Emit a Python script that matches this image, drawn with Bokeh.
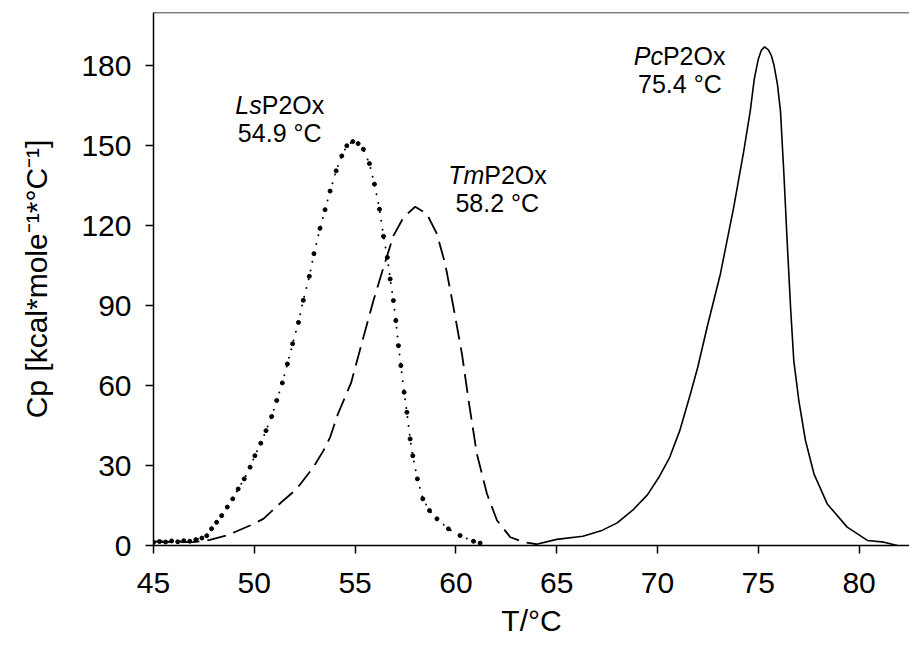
from bokeh.plotting import figure
from bokeh.models import Range1d, FixedTicker, Span, ColumnDataSource
from bokeh.core.properties import value
from bokeh.embed import file_html
from bokeh.resources import INLINE

# ---- data ----
ls_t = [45.0, 45.3, 45.6, 45.9, 46.2, 46.5, 46.8, 47.1, 47.4, 47.64, 47.88, 48.13,
        48.38, 48.66, 48.93, 49.2, 49.5, 49.79,
        50.03, 50.32, 50.58, 50.86, 51.11, 51.39, 51.64, 51.9, 52.19, 52.43, 52.73,
        52.96, 53.26, 53.51, 53.76, 54.06, 54.34, 54.59, 54.89, 55.15, 55.41, 55.71,
        55.96, 56.21, 56.41, 56.6, 56.74, 56.9, 57.02, 57.15, 57.27, 57.43, 57.57,
        57.73, 57.86, 58.09, 58.36, 58.69, 59.06, 59.63, 60.21, 60.87, 61.2]
ls_cp = [1.2, 1.5, 1.3, 1.7, 1.4, 1.8, 1.6, 2.2, 2.8, 3.7, 6.3, 8.7,
         11.2, 14.4, 17.5, 21.2, 25.0, 29.4,
         33.7, 38.4, 43.1, 48.4, 54.4, 61.0, 68.1, 75.7, 83.7, 92.0, 101.0,
         109.5, 119.0, 126.0, 133.0, 140.6, 146.2, 150.0, 151.6, 150.8, 148.7, 143.3,
         135.6, 126.2, 116.0, 108.1, 100.0, 91.9, 84.4, 75.0, 67.5, 57.5, 50.0,
         40.0, 33.7, 25.0, 17.5, 13.1, 10.0, 6.25, 3.75, 1.6, 0.9]

tm_t = [45.0, 46.0, 46.97, 47.8, 48.63, 49.79, 50.45, 51.44, 52.1, 52.93, 53.43, 53.76,
        54.15, 54.8, 55.41, 55.91, 56.41, 56.9, 57.4, 57.98, 58.56, 59.06, 59.47,
        59.88, 60.3, 60.63, 61.04, 61.54, 62.04, 62.7, 63.36, 64.0]
tm_cp = [1.5, 1.3, 1.25, 2.1, 3.75, 7.5, 10.0, 16.9, 21.2, 29.4, 35.6, 40.6,
         49.4, 61.0, 78.1, 91.9, 104.4, 116.2, 123.1, 127.1, 124.4, 116.9, 105.6,
         89.4, 71.9, 54.4, 34.4, 19.4, 9.4, 3.1, 1.25, 0.5]

pc_t = [63.9, 65.0, 66.3, 67.2, 68.0, 68.8, 69.5, 70.1, 70.6, 71.1, 71.6, 72.0,
        72.46, 73.12, 73.78, 74.28, 74.6, 74.8, 75.0, 75.15, 75.31, 75.5, 75.65,
        75.77, 75.95, 76.1, 76.27, 76.43,
        76.6, 76.76, 77.01, 77.34, 77.76, 78.42, 79.41, 80.41, 81.23, 81.9]
pc_cp = [0.3, 2.3, 3.5, 5.5, 8.5, 13.5, 19.0, 26.0, 33.0, 43.0, 56.0, 67.0,
         81.9, 101.9, 126.9, 148.1, 163.0, 175.0, 182.5, 185.8, 187.1, 186.0, 183.8,
         180.5, 173.0, 163.0, 139.4, 114.4,
         89.4, 69.4, 54.4, 39.4, 26.9, 15.6, 6.9, 1.9, 1.25, 0.0]

# annotations
ann_italic = ["Ls", "Tm", "Pc"]
ann_rest = ["P2Ox", "P2Ox", "P2Ox"]
ann_tm = ["54.9 \u00b0C", "58.2 \u00b0C", "75.4 \u00b0C"]
ann_x = [51.26, 62.05, 71.11]
ann_y = [165.4, 139.1, 183.7]

x_ticks = [45, 50, 55, 60, 65, 70, 75, 80]
y_ticks = [0, 30, 60, 90, 120, 150, 180]

FONT = "Liberation Sans"

p = figure(width=909, height=658, x_range=Range1d(45, 82.5), y_range=Range1d(0, 200),
           output_backend="svg", toolbar_location=None,
           min_border_left=153, min_border_right=0, min_border_top=12, min_border_bottom=113)
p.outline_line_color = None
p.grid.visible = False
p.background_fill_color = "white"
p.border_fill_color = "white"

p.add_layout(Span(location=200, dimension="width", line_color="black", line_width=1.5))

for ax in (p.xaxis[0], p.yaxis[0]):
    ax.axis_line_width = 1.5
    ax.axis_line_color = "black"
    ax.major_tick_line_width = 1.5
    ax.major_tick_line_color = "black"
    ax.major_tick_out = 8
    ax.major_tick_in = 0
    ax.minor_tick_line_color = None
    ax.major_label_text_font = FONT
    ax.major_label_text_font_size = "30px"
    ax.major_label_text_color = "black"
    ax.axis_label_text_font = FONT
    ax.axis_label_text_font_size = "30px"
    ax.axis_label_text_font_style = "normal"
    ax.axis_label_text_color = "black"

p.xaxis.ticker = FixedTicker(ticks=x_ticks)
p.yaxis.ticker = FixedTicker(ticks=y_ticks)
p.xaxis.axis_label = "T/\u00b0C"
p.yaxis.axis_label = "Cp [kcal*mole\u207b\u00b9*\u00b0C\u207b\u00b9]"
p.xaxis.major_label_standoff = 19
p.xaxis.axis_label_standoff = 8
p.yaxis.major_label_standoff = 14
p.yaxis.axis_label_standoff = 25

# curves
p.line(ls_t, ls_cp, line_color="black", line_width=2.0, line_dash="0 9", line_cap="round")
p.scatter(ls_t, ls_cp, size=4, marker="circle", fill_color="black", line_color="black")
p.line(tm_t, tm_cp, line_color="black", line_width=1.8, line_dash="19 8")
p.line(pc_t, pc_cp, line_color="black", line_width=1.6)

# annotations
src = ColumnDataSource(dict(x=ann_x, y=ann_y, it=ann_italic, rest=ann_rest, tm=ann_tm,
                            off=[-18, -13, -17]))
p.text(x="x", y="y", text="it", source=src, x_offset="off", text_align="right",
       text_baseline="alphabetic", text_font=value(FONT), text_font_size="25px",
       text_font_style="italic", text_color="black")
p.text(x="x", y="y", text="rest", source=src, x_offset="off", text_align="left",
       text_baseline="alphabetic", text_font=value(FONT), text_font_size="25px",
       text_color="black")
p.text(x="x", y="y", text="tm", source=src, y_offset=28, text_align="center",
       text_baseline="alphabetic", text_font=value(FONT), text_font_size="25px",
       text_color="black")

open("out.html", "w").write(file_html(p, INLINE))
